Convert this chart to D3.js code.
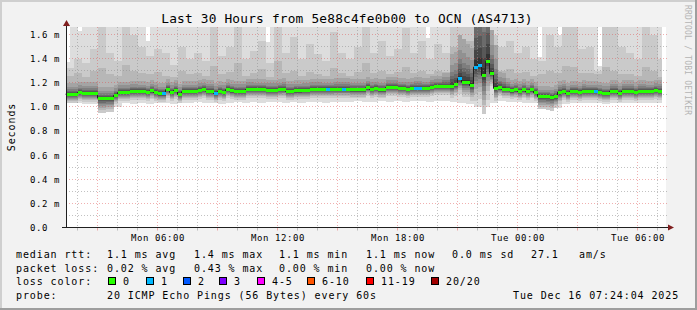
<!DOCTYPE html>
<html><head><meta charset="utf-8">
<script src="https://cdn.jsdelivr.net/npm/d3@7/dist/d3.min.js"></script>
<style>
html,body{margin:0;padding:0;background:#f2f2f2;}
svg{display:block;}
text{font-family:"DejaVu Sans Mono",monospace;}
</style></head><body>
<svg id="chart" width="697" height="310"></svg>
<script>
// ---------------- DATA ----------------
const title = "Last 30 Hours from 5e88c4fe0b00 to OCN (AS4713)";
const startTime = Date.UTC(2025, 11, 15, 1, 24);   // Mon 01:24
const endTime   = Date.UTC(2025, 11, 16, 7, 24);   // Tue 07:24
const stepMinutes = 12;

// median rtt (ms) every 12 minutes
const median = [
 1.105,1.105,1.105,1.119,1.113,1.113,1.113,1.113,1.072,1.072,
 1.072,1.072,1.095,1.118,1.118,1.118,1.128,1.128,1.125,1.125,
 1.117,1.132,1.12,1.108,1.108,1.142,1.12,1.136,1.103,1.125,
 1.125,1.125,1.125,1.136,1.142,1.13,1.13,1.11,1.125,1.12,
 1.142,1.133,1.128,1.128,1.128,1.144,1.144,1.142,1.142,1.142,
 1.136,1.136,1.136,1.142,1.147,1.128,1.128,1.133,1.133,1.136,
 1.136,1.144,1.144,1.144,1.142,1.142,1.142,1.147,1.147,1.147,
 1.147,1.14,1.14,1.14,1.14,1.158,1.144,1.15,1.14,1.14,
 1.16,1.16,1.16,1.15,1.15,1.144,1.15,1.155,1.155,1.15,
 1.15,1.163,1.167,1.167,1.167,1.167,1.167,1.183,1.235,1.205,
 1.205,1.177,1.33,1.346,1.26,1.376,1.274,1.153,1.158,1.147,
 1.147,1.133,1.14,1.128,1.14,1.125,1.14,1.117,1.084,1.084,
 1.084,1.078,1.089,1.122,1.13,1.111,1.125,1.125,1.117,1.13,
 1.125,1.125,1.125,1.12,1.111,1.111,1.13,1.13,1.111,1.13,
 1.13,1.13,1.117,1.13,1.13,1.125,1.125,1.136,1.13
];
// lost pings (of 20) per step
const lossCount = [
 0,0,0,0,0,0,0,0,0,0,
 0,0,0,0,0,0,0,0,0,0,
 0,0,0,0,1,0,0,0,0,0,
 0,0,0,0,0,0,0,1,0,0,
 0,0,0,0,0,0,0,0,0,0,
 0,0,0,0,0,0,0,0,0,0,
 0,0,0,0,0,1,0,0,0,1,
 0,0,0,0,0,0,0,0,0,0,
 0,0,0,0,0,0,0,1,1,0,
 0,0,0,0,0,0,0,0,1,0,
 0,0,1,1,0,0,0,0,0,0,
 0,0,0,0,0,0,0,0,0,0,
 0,0,0,0,0,0,0,0,0,0,
 0,0,1,0,0,0,0,0,0,0,
 0,0,0,0,0,0,0,0,0
];
// slowest ping per step (ms)
const maxPing = [
 1.37,1.75,1.75,1.63,1.75,1.75,1.75,1.75,1.75,1.75,
 1.75,1.75,1.75,1.75,1.75,1.75,1.75,1.75,1.75,1.75,
 1.55,1.75,1.75,1.75,1.75,1.75,1.75,1.75,1.75,1.75,
 1.75,1.75,1.75,1.75,1.75,1.75,1.75,1.75,1.75,1.75,
 1.75,1.75,1.75,1.75,1.75,1.75,1.75,1.75,1.75,1.75,
 1.54,1.75,1.75,1.75,1.75,1.75,1.75,1.75,1.75,1.75,
 1.75,1.75,1.75,1.75,1.75,1.75,1.75,1.75,1.75,1.75,
 1.75,1.75,1.75,1.75,1.75,1.75,1.75,1.75,1.75,1.75,
 1.75,1.75,1.75,1.75,1.75,1.75,1.75,1.75,1.75,1.75,
 1.57,1.75,1.75,1.75,1.75,1.75,1.75,1.75,1.75,1.75,
 1.75,1.75,1.75,1.75,1.75,1.75,1.75,1.75,1.75,1.75,
 1.75,1.75,1.75,1.75,1.75,1.75,1.75,1.75,1.41,1.75,
 1.75,1.75,1.75,1.60,1.75,1.75,1.75,1.75,1.75,1.75,
 1.75,1.75,1.75,1.34,1.75,1.75,1.75,1.75,1.75,1.75,
 1.75,1.75,1.75,1.75,1.75,1.75,1.75,1.75,1.75
];
// per 24-minute column: 2nd slowest, 3rd slowest and fastest ping (ms)
const ping19 = [
 1.32,1.40,1.36,1.48,1.70,1.45,1.38,1.70,1.60,1.50,
 1.42,1.48,1.45,1.35,1.50,1.40,1.45,1.38,1.70,1.42,
 1.50,1.70,1.40,1.46,1.55,1.36,1.70,1.45,1.58,1.40,
 1.52,1.44,1.38,1.62,1.45,1.40,1.50,1.70,1.45,1.55,
 1.42,1.48,1.65,1.45,1.55,1.40,1.52,1.45,1.70,1.70,
 1.70,1.70,1.70,1.60,1.50,1.55,1.45,1.50,1.40,1.38,
 1.60,1.50,1.70,1.70,1.48,1.50,1.30,1.70,1.70,1.50,
 1.45,1.40,1.70,1.60,1.40
];
const ping18 = [
 1.26,1.28,1.25,1.30,1.32,1.27,1.26,1.35,1.30,1.28,
 1.27,1.29,1.26,1.25,1.30,1.27,1.28,1.26,1.34,1.27,
 1.29,1.36,1.26,1.28,1.31,1.25,1.38,1.28,1.30,1.26,
 1.29,1.27,1.26,1.32,1.28,1.26,1.29,1.36,1.28,1.30,
 1.27,1.29,1.33,1.28,1.30,1.27,1.30,1.29,1.50,1.55,
 1.55,1.70,1.70,1.40,1.30,1.31,1.28,1.29,1.26,1.27,
 1.30,1.28,1.34,1.33,1.28,1.28,1.27,1.33,1.30,1.27,
 1.27,1.26,1.33,1.30,1.25
];
const pingMin = [
 1.03,1.03,1.02,1.02,0.98,0.98,1.00,1.03,1.02,1.03,
 1.02,1.03,1.03,1.02,1.03,1.03,1.04,1.03,1.03,1.02,
 1.03,1.04,1.03,1.04,1.03,1.04,1.04,1.03,1.04,1.03,
 1.04,1.04,1.03,1.04,1.04,1.04,1.05,1.04,1.04,1.05,
 1.04,1.05,1.04,1.05,1.05,1.04,1.05,1.05,1.04,1.03,
 1.02,1.00,1.00,1.03,1.05,1.04,1.04,1.03,1.03,1.00,
 0.99,0.99,1.02,1.03,1.03,1.03,1.03,1.02,1.03,1.03,
 1.03,1.03,1.03,1.03,1.03
];
// spread of the core pings around the median, per column
const spreadUp = [
 1,1,1,1,1,1,1,1,1,1, 1,1,1,1,1,1,1,1,1,1, 1,1,1,1,1,1,1,1,1,1,
 1,1,1,1,1,1,1,1,1,1, 1,1,1,1,1,1,1,1.3,3,4, 3.5,12,12,4,1.5,1,1,1,1,1,
 1,1,1,1,1,1,1,1,1,1, 1,1,1,1,1
];
const spreadDown = [
 1,1,1,1,1.8,1.6,1,1,1,1, 1,1,1,1,1,1,1,1,1,1, 1,1,1,1,1,1,1,1,1,1,
 1,1,1,1,1,1,1,1,1,1, 1,1,1,1,1,1,1,1,1.3,1.8, 1.8,4,4.5,1.5,1,1,1,1,1,1.5,
 1.6,1.4,1,1,1,1,1,1,1,1, 1,1,1,1,1
];
// typical distance (ms) of pings 11..17 above and 10..2 below the median
const coreUp = [0.005, 0.012, 0.02, 0.03, 0.04, 0.06, 0.09];
const coreDown = [0.003, 0.008, 0.014, 0.02, 0.028, 0.036, 0.045, 0.055, 0.07];

const yTicks = [0, 0.2, 0.4, 0.6, 0.8, 1.0, 1.2, 1.4, 1.6];
const xTickTimes = [Date.UTC(2025,11,15,6), Date.UTC(2025,11,15,12), Date.UTC(2025,11,15,18), Date.UTC(2025,11,16,0), Date.UTC(2025,11,16,6)];

const rttStats = ["1.1 ms avg", "1.4 ms max", "1.1 ms min", "1.1 ms now", "0.0 ms sd", "27.1", "am/s"];
const lossStats = ["0.02 % avg", "0.43 % max", "0.00 % min", "0.00 % now"];
const lossLabels = ["0", "1", "2", "3", "4-5", "6-10", "11-19", "20/20"];
const lossColors = ["#26ff00", "#00b8ff", "#0059ff", "#7e00ff", "#ff00ff", "#ff5500", "#ff0000", "#a10000"];
const probeText = "20 ICMP Echo Pings (56 Bytes) every 60s";
const stamp = "Tue Dec 16 07:24:04 2025";

// ---------------- DRAW ----------------
const W = 697, H = 310;
const svg = d3.select('#chart');
const x = d3.scaleUtc().domain([startTime, endTime]).range([65.5, 665.5]);
const y = d3.scaleLinear().domain([0, 1.6]).range([227.5, 34.5]);
const stepMs = stepMinutes * 60000;

svg.append('rect').attr('width', W).attr('height', H).attr('fill', '#f2f2f2');
svg.append('rect').attr('x', 0).attr('y', 0).attr('width', W).attr('height', 2).attr('fill', '#cfcfcf');
svg.append('rect').attr('x', 0).attr('y', 0).attr('width', 2).attr('height', H).attr('fill', '#cfcfcf');
svg.append('rect').attr('x', 0).attr('y', H - 2).attr('width', W).attr('height', 2).attr('fill', '#9e9e9e');
svg.append('rect').attr('x', W - 2).attr('y', 0).attr('width', 2).attr('height', H).attr('fill', '#9e9e9e');

// canvas
svg.append('rect').attr('x', 66).attr('y', 27).attr('width', 600).attr('height', 201).attr('fill', '#ffffff');
svg.append('clipPath').attr('id', 'clip').append('rect').attr('x', 66).attr('y', 27).attr('width', 600).attr('height', 200.5);

// build ping distribution per step
const steps = median.map((m, k) => {
  const c = Math.floor(k / 2);
  const p = new Array(21);
  for (let i = 2; i <= 10; i++) p[i] = m - coreDown[10 - i] * spreadDown[c];
  for (let i = 11; i <= 17; i++) p[i] = m + coreUp[i - 11] * spreadUp[c];
  p[1] = Math.min(pingMin[c], p[2]);
  p[18] = Math.max(ping18[c], p[17]);
  p[19] = Math.max(ping19[c], p[18]);
  p[20] = Math.max(maxPing[k], p[19]);
  return { t: startTime + k * stepMs, p, m, loss: lossCount[k] };
});
const stepsEnd = steps.concat([{ t: startTime + steps.length * stepMs, p: steps[steps.length - 1].p, m: steps[steps.length - 1].m }]);

const smoke = svg.append('g').attr('clip-path', 'url(#clip)');
for (let i = 1; i <= 10; i++) {
  const g = Math.floor(190 / 10 * (10 - i)) + 50;
  const area = d3.area().curve(d3.curveStepAfter)
    .x(d => x(d.t)).y0(d => y(d.p[i])).y1(d => y(d.p[21 - i]));
  smoke.append('path').attr('d', area(stepsEnd)).attr('fill', d3.rgb(g, g, g)).attr('shape-rendering', 'crispEdges');
}

// grid
const grid = svg.append('g');
const minorCol = 'rgba(143,143,143,0.55)', majorCol = 'rgba(222,79,79,0.45)';
d3.range(1, 17).forEach(i => {
  const v = i / 10, yy = Math.floor(y(v)) + 0.5, major = i % 2 === 0;
  grid.append('line').attr('x1', 66).attr('x2', 668).attr('y1', yy).attr('y2', yy)
    .attr('stroke', major ? majorCol : minorCol).attr('stroke-dasharray', '1,2');
});
const hours = d3.utcHour.range(startTime, endTime);
hours.forEach(h => {
  const xx = Math.floor(x(h)) + 0.5, major = h.getUTCHours() % 3 === 0;
  grid.append('line').attr('x1', xx).attr('x2', xx).attr('y1', 27).attr('y2', 227)
    .attr('stroke', major ? majorCol : minorCol).attr('stroke-dasharray', '1,2');
  grid.append('line').attr('x1', xx).attr('x2', xx).attr('y1', 228).attr('y2', 230.5)
    .attr('stroke', major ? majorCol : minorCol);
});

// median line
const medLine = d3.line().curve(d3.curveStepAfter).x(d => x(d.t)).y(d => y(d.m));
svg.append('path').attr('d', medLine(stepsEnd)).attr('fill', 'none').attr('stroke', '#202020').attr('stroke-width', 1);
svg.append('g').selectAll('rect').data(steps).join('rect')
  .attr('x', d => x(d.t)).attr('width', d => x(d.t + stepMs) - x(d.t))
  .attr('y', d => y(d.m) - 1.5).attr('height', 3)
  .attr('fill', d => lossColors[d.loss]).attr('shape-rendering', 'crispEdges');

// axes
svg.append('line').attr('x1', 66.5).attr('x2', 66.5).attr('y1', 228).attr('y2', 24).attr('stroke', '#1f1f1f');
svg.append('line').attr('x1', 62).attr('x2', 669).attr('y1', 227.5).attr('y2', 227.5).attr('stroke', '#1f1f1f');
svg.append('path').attr('d', 'M63,26L70,26L66.5,20Z').attr('fill', '#801f1f');
svg.append('path').attr('d', 'M668,224.5L668,230.5L674,227.5Z').attr('fill', '#801f1f');

const fmtY = v => v === 0 ? '0.0' : d3.format('.1f')(v) + ' m';
const yAxis = svg.append('g').attr('transform', 'translate(66,0)')
  .call(d3.axisLeft(y).tickValues(yTicks).tickFormat(fmtY).tickSize(0).tickPadding(0));
yAxis.select('.domain').remove();
yAxis.selectAll('text').attr('text-anchor', 'start').attr('x', -36)
  .style('font-family', '"DejaVu Sans Mono",monospace').style('font-size', '9px').style('letter-spacing', '0.6px').attr('fill', '#000');

const xAxis = svg.append('g').attr('transform', 'translate(0,228)')
  .call(d3.axisBottom(x).tickValues(xTickTimes).tickFormat(d3.utcFormat('%a %H:%M')).tickSize(0).tickPadding(6.6));
xAxis.select('.domain').remove();
xAxis.selectAll('text')
  .style('font-family', '"DejaVu Sans Mono",monospace').style('font-size', '9px').style('letter-spacing', '0.6px').attr('fill', '#000');

// title & labels
svg.append('text').attr('x', 347).attr('y', 23).attr('text-anchor', 'middle')
  .style('font-size', '12.8px').style('letter-spacing', '0.2px').text(title);
svg.append('text').attr('transform', 'translate(15,127) rotate(-90)').attr('text-anchor', 'middle')
  .style('font-size', '10px').style('letter-spacing', '0.9px').text('Seconds');
svg.append('text').attr('transform', 'translate(684.5,5) rotate(90)')
  .style('font-size', '8px').style('letter-spacing', '0.2px').attr('fill', '#b4b4b4').text('RRDTOOL / TOBI OETIKER');

// legend
const leg = svg.append('g').style('font-size', '10px').style('letter-spacing', '0.9px');
const statX = [107, 194, 279, 366, 452, 531, 579];
leg.append('text').attr('x', 16).attr('y', 258).text('median rtt:');
rttStats.forEach((s, i) => leg.append('text').attr('x', statX[i]).attr('y', 258).text(s));
leg.append('text').attr('x', 16).attr('y', 271.5).text('packet loss:');
lossStats.forEach((s, i) => leg.append('text').attr('x', statX[i]).attr('y', 271.5).text(s));
leg.append('text').attr('x', 16).attr('y', 285).text('loss color:');
const boxX = [108, 146, 183, 219, 257, 307, 366, 431];
lossLabels.forEach((l, i) => {
  leg.append('rect').attr('x', boxX[i] + 0.5).attr('y', 277.5).attr('width', 7).attr('height', 7)
    .attr('fill', lossColors[i]).attr('stroke', '#000').attr('stroke-width', 1);
  leg.append('text').attr('x', boxX[i] + 15).attr('y', 285).text(l);
});
leg.append('text').attr('x', 16).attr('y', 298.5).text('probe:');
leg.append('text').attr('x', 107).attr('y', 298.5).text(probeText);
leg.append('text').attr('x', 513).attr('y', 298.5).text(stamp);
</script></body></html>
